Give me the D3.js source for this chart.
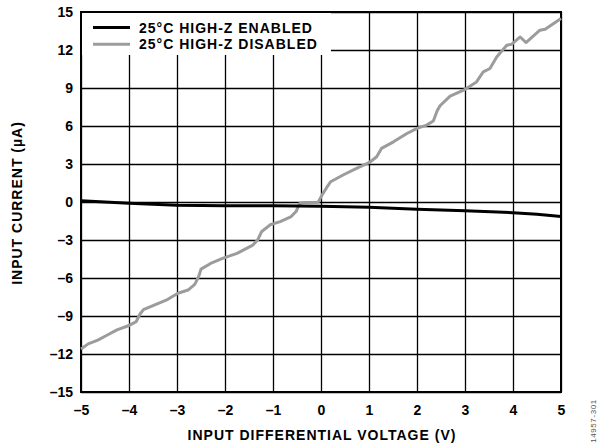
<!DOCTYPE html>
<html>
<head>
<meta charset="utf-8">
<script src="https://cdn.jsdelivr.net/npm/d3@7"></script>
<style>
  html, body { margin: 0; padding: 0; background: #fff; }
  svg { display: block; }
  text { font-family: "Liberation Sans", Arial, sans-serif; font-weight: bold; }
</style>
</head>
<body>
<svg id="chart" width="598" height="445"></svg>
<script>
// ---- Data ----
const xTicks = [-5, -4, -3, -2, -1, 0, 1, 2, 3, 4, 5];
const yTicks = [-15, -12, -9, -6, -3, 0, 3, 6, 9, 12, 15];

const seriesNames = ["25°C HIGH-Z ENABLED", "25°C HIGH-Z DISABLED"];

// 25°C HIGH-Z ENABLED
const enabledV = [-5, -4.5, -4, -3.5, -3, -2, -1, 0, 1, 2, 3, 4, 4.5, 5];
const enabledI = [0.1, 0.0, -0.1, -0.18, -0.25, -0.3, -0.3, -0.33, -0.42, -0.58, -0.7, -0.84, -0.97, -1.15];

// 25°C HIGH-Z DISABLED
const disabledV = [-5.0, -4.85, -4.65, -4.45, -4.25, -4.0, -3.85, -3.78, -3.7, -3.45, -3.2, -2.98, -2.77, -2.63, -2.55, -2.5,
  -2.3, -2.05, -1.75, -1.42, -1.32, -1.24, -1.06, -0.85, -0.62, -0.52, -0.44, -0.33, -0.06, 0.03, 0.12, 0.2,
  0.46, 0.74, 1.0, 1.16, 1.26, 1.51, 1.79, 2.0, 2.2, 2.34, 2.42, 2.48, 2.69, 2.97, 3.24, 3.38, 3.52, 3.66,
  3.87, 3.97, 4.15, 4.27, 4.56, 4.67, 5.0];
const disabledI = [-11.6, -11.2, -10.9, -10.5, -10.1, -9.75, -9.45, -8.9, -8.5, -8.1, -7.7, -7.2, -6.95, -6.5, -5.9, -5.3,
  -4.85, -4.45, -4.05, -3.4, -3.0, -2.35, -1.8, -1.55, -1.15, -0.75, -0.1, -0.03, -0.02, 0.6, 1.15, 1.6,
  2.13, 2.66, 3.1, 3.57, 4.23, 4.75, 5.41, 5.81, 6.07, 6.4, 7.2, 7.6, 8.36, 8.83, 9.48, 10.27, 10.54, 11.45,
  12.37, 12.45, 13.03, 12.59, 13.56, 13.64, 14.48];

// ---- Layout ----
const margin = { left: 81, top: 12, width: 480, height: 380 };
const svg = d3.select("#chart");
const g = svg.append("g").attr("transform", `translate(${margin.left},${margin.top})`);

const x = d3.scaleLinear().domain([-5, 5]).range([0, margin.width]);
const y = d3.scaleLinear().domain([-15, 15]).range([margin.height, 0]);

const fmt = d => (d < 0 ? "\u2013" + Math.abs(d) : String(d));

// grid via axes
const xGrid = g.append("g")
  .attr("transform", `translate(0,${margin.height})`)
  .call(d3.axisBottom(x).tickValues(xTicks).tickSize(-margin.height).tickFormat(fmt).tickPadding(13));
const yGrid = g.append("g")
  .call(d3.axisLeft(y).tickValues(yTicks).tickSize(-margin.width).tickFormat(fmt).tickPadding(8));

[xGrid, yGrid].forEach(a => {
  a.select(".domain").remove();
  a.selectAll(".tick line").attr("stroke", "#000").attr("stroke-width", 1.3);
  a.selectAll(".tick text").attr("fill", "#000").style("font-size", "14px")
    .style("font-family", "'Liberation Sans', Arial, sans-serif").style("font-weight", "bold");
});

// legend background (covers the grid)
const legend = g.append("g");
legend.append("rect").attr("x", 1).attr("y", 1).attr("width", 249).attr("height", 42).attr("fill", "#fff");

// border
g.append("rect").attr("x", 0).attr("y", 0).attr("width", margin.width).attr("height", margin.height)
  .attr("fill", "none").attr("stroke", "#000").attr("stroke-width", 2);

// lines
const line = d3.line().x(d => x(d[0])).y(d => y(d[1])).curve(d3.curveLinear);
const enabledData = enabledV.map((v, i) => [v, enabledI[i]]);
const disabledData = disabledV.map((v, i) => [v, disabledI[i]]);

g.append("path").datum(disabledData).attr("d", line).attr("fill", "none")
  .attr("stroke", "#9c9c9c").attr("stroke-width", 3).attr("stroke-linejoin", "round");
g.append("path").datum(enabledData).attr("d", line).attr("fill", "none")
  .attr("stroke", "#000").attr("stroke-width", 3).attr("stroke-linejoin", "round");

// legend items
const legendColors = ["#000", "#9c9c9c"];
seriesNames.forEach((name, i) => {
  const ly = 15.5 + i * 16.7;
  legend.append("line").attr("x1", 12).attr("x2", 49).attr("y1", ly).attr("y2", ly)
    .attr("stroke", legendColors[i]).attr("stroke-width", 3);
  legend.append("text").attr("x", 58).attr("y", ly + 5)
    .style("font-size", "14px").style("letter-spacing", "1px").attr("fill", "#000").text(name);
});

// axis titles
svg.append("text").attr("x", 322).attr("y", 440).attr("text-anchor", "middle")
  .style("font-size", "14px").style("letter-spacing", "1px").text("INPUT DIFFERENTIAL VOLTAGE (V)");
svg.append("text").attr("transform", "translate(22,203) rotate(-90)").attr("text-anchor", "middle")
  .style("font-size", "14px").style("letter-spacing", "1px").text("INPUT CURRENT (\u00B5A)");

// figure id
svg.append("text").attr("transform", "translate(596,421) rotate(-90)").attr("text-anchor", "middle")
  .style("font-size", "8px").style("font-weight", "normal").style("letter-spacing", "0.6px")
  .attr("fill", "#555").text("14957-301");
</script>
</body>
</html>
